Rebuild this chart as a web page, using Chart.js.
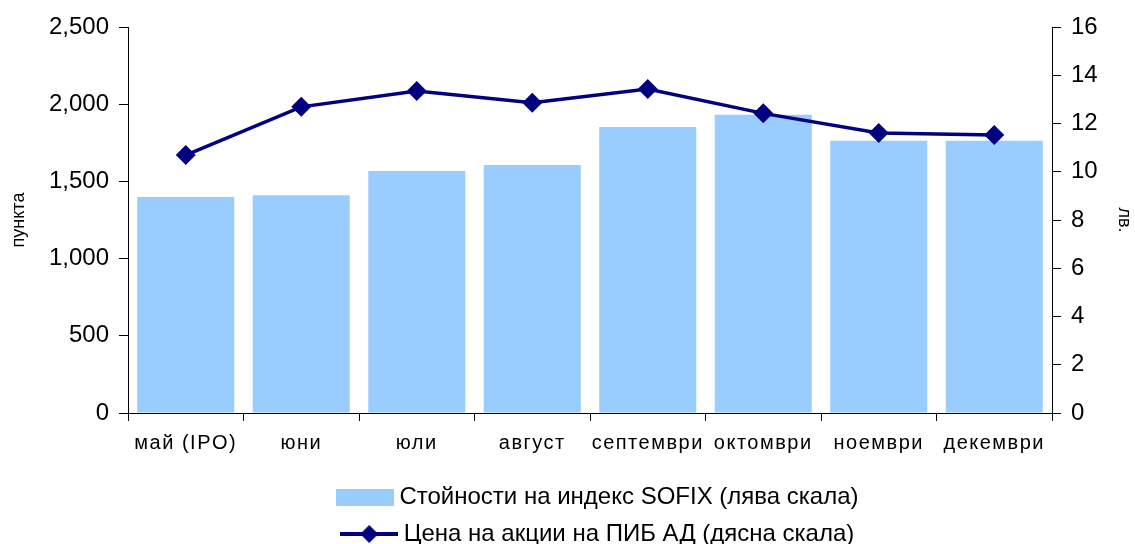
<!DOCTYPE html>
<html>
<head>
<meta charset="utf-8">
<script src="https://cdn.jsdelivr.net/npm/chart.js@4"></script>
<style>
  html, body { margin: 0; padding: 0; background: #fff; }
  #wrap { width: 1135px; height: 544px; }
</style>
</head>
<body>
<div id="wrap"><canvas id="c" width="1135" height="544"></canvas></div>
<script>
const categories = ['май (IPO)', 'юни', 'юли', 'август', 'септември', 'октомври', 'ноември', 'декември'];
const sofixValues = [1399, 1410, 1568, 1607, 1853, 1931, 1763, 1763];
const pibPrices = [10.69, 12.69, 13.35, 12.86, 13.43, 12.42, 11.61, 11.52];
const leftTicks = [0, 500, 1000, 1500, 2000, 2500];
const rightTicks = [0, 2, 4, 6, 8, 10, 12, 14, 16];
const barLabel = 'Стойности на индекс SOFIX (лява скала)';
const lineLabel = 'Цена на акции на ПИБ АД (дясна скала)';
const leftTitle = 'пункта';
const rightTitle = 'лв.';

const BAR_COLOR = '#99CCFF';
const LINE_COLOR = '#000080';
const FONT = "'Liberation Sans', Arial, sans-serif";

function makeBarIcon() {
  const cv = document.createElement('canvas');
  cv.width = 58; cv.height = 17;
  const g = cv.getContext('2d');
  g.fillStyle = BAR_COLOR;
  g.fillRect(0, 0, 58, 17);
  return cv;
}
function makeLineIcon() {
  const cv = document.createElement('canvas');
  cv.width = 58; cv.height = 20;
  const g = cv.getContext('2d');
  g.strokeStyle = LINE_COLOR;
  g.lineWidth = 4;
  g.beginPath(); g.moveTo(0, 10); g.lineTo(58, 10); g.stroke();
  g.fillStyle = LINE_COLOR;
  g.beginPath(); g.moveTo(29 - 9, 10); g.lineTo(29, 1); g.lineTo(29 + 9, 10); g.lineTo(29, 19); g.closePath(); g.fill();
  return cv;
}
const barIcon = makeBarIcon();
const lineIcon = makeLineIcon();

const shiftLegend = {
  id: 'shiftLegend',
  afterLayout(chart) {
    const l = chart.legend;
    if (l) { l.left += 10.5; l.right += 10.5; l.top += 12; l.bottom += 12; }
  }
};

// x-axis tick labels are drawn after datasets (ticks.z:1) with a little letter spacing
const axisSpacing = {
  id: 'axisSpacing',
  afterDatasetsDraw(chart) { chart.ctx.letterSpacing = '1.5px'; },
  afterDraw(chart) { chart.ctx.letterSpacing = '0px'; }
};

Chart.defaults.font.family = FONT;
Chart.defaults.color = '#000';

new Chart(document.getElementById('c'), {
  data: {
    labels: categories,
    datasets: [
      {
        type: 'line',
        label: lineLabel,
        data: pibPrices,
        yAxisID: 'y1',
        borderColor: LINE_COLOR,
        backgroundColor: LINE_COLOR,
        borderWidth: 3.5,
        pointStyle: 'rectRot',
        pointRadius: 10,
        pointHoverRadius: 10,
        pointBorderWidth: 0,
        tension: 0,
        order: 0
      },
      {
        type: 'bar',
        label: barLabel,
        data: sofixValues,
        yAxisID: 'y',
        backgroundColor: BAR_COLOR,
        borderWidth: 0,
        categoryPercentage: 1,
        barPercentage: 0.84,
        order: 1
      }
    ]
  },
  options: {
    responsive: false,
    animation: false,
    layout: { padding: { top: 27, right: 0, left: 0, bottom: 0 } },
    plugins: {
      tooltip: { enabled: false },
      legend: {
        position: 'bottom',
        fullSize: false,
        maxWidth: 640,
        reverse: true,
        labels: {
          usePointStyle: true,
          pointStyleWidth: 45,
          boxHeight: 18,
          padding: 13,
          font: { size: 24, family: FONT },
          color: '#000',
          generateLabels(chart) {
            return chart.data.datasets.map((ds, i) => ({
              text: ds.label,
              datasetIndex: i,
              pointStyle: ds.type === 'bar' ? barIcon : lineIcon,
              fillStyle: ds.backgroundColor,
              strokeStyle: ds.borderColor,
              lineWidth: 0,
              hidden: false
            }));
          }
        }
      }
    },
    scales: {
      x: {
        type: 'category',
        offset: true,
        grid: { display: true, drawOnChartArea: false, offset: true, tickLength: 8, color: '#000', lineWidth: 1 },
        border: { display: true, color: '#000', width: 1 },
        ticks: { z: 1, font: { size: 20 }, color: '#000', maxRotation: 0, autoSkip: false, padding: 10 },
        afterFit(scale) { scale.height = 47; }
      },
      y: {
        type: 'linear',
        position: 'left',
        min: 0, max: 2500,
        afterBuildTicks(scale) { scale.ticks = leftTicks.map(v => ({ value: v })); },
        grid: { display: true, drawOnChartArea: false, tickLength: 9, color: '#000' },
        border: { display: true, color: '#000', width: 1 },
        ticks: {
          font: { size: 24 }, color: '#000', padding: 10,
          callback: v => v.toLocaleString('en-US')
        },
        title: { display: true, text: leftTitle, font: { size: 18 }, color: '#000', padding: { top: 8, bottom: 0 } },
        afterFit(scale) { scale.width = 128; }
      },
      y1: {
        type: 'linear',
        position: 'right',
        min: 0, max: 16,
        afterBuildTicks(scale) { scale.ticks = rightTicks.map(v => ({ value: v })); },
        grid: { display: true, drawOnChartArea: false, tickLength: 9, color: '#000' },
        border: { display: true, color: '#000', width: 1 },
        ticks: { font: { size: 24 }, color: '#000', padding: 10 },
        title: { display: true, text: rightTitle, font: { size: 18 }, color: '#000', padding: { top: 0, bottom: 0 } },
        afterFit(scale) { scale.width = 83; }
      }
    }
  },
  plugins: [shiftLegend, axisSpacing]
});
</script>
</body>
</html>
